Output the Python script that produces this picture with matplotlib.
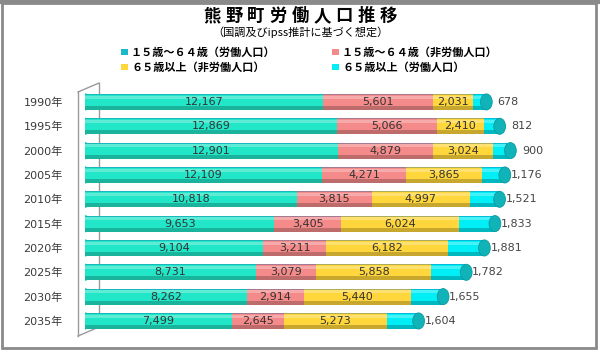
import matplotlib
matplotlib.use("Agg")
import matplotlib.pyplot as plt
from matplotlib.patches import Ellipse, Rectangle
from matplotlib.lines import Line2D

plt.rcParams['font.family'] = ['DejaVu Sans', 'Noto Sans CJK JP']

years = ["1990年", "1995年", "2000年", "2005年", "2010年", "2015年", "2020年", "2025年", "2030年", "2035年"]
working_15_64 = [12167, 12869, 12901, 12109, 10818, 9653, 9104, 8731, 8262, 7499]
nonworking_15_64 = [5601, 5066, 4879, 4271, 3815, 3405, 3211, 3079, 2914, 2645]
nonworking_65 = [2031, 2410, 3024, 3865, 4997, 6024, 6182, 5858, 5440, 5273]
working_65 = [678, 812, 900, 1176, 1521, 1833, 1881, 1782, 1655, 1604]

series_names = ["１５歳～６４歳（労働人口）", "１５歳～６４歳（非労働人口）",
                "６５歳以上（非労働人口）", "６５歳以上（労働人口）"]
series = [working_15_64, nonworking_15_64, nonworking_65, working_65]
colors = ["#22E6C8", "#F48A8A", "#FFD63C", "#00EEF6"]

title = "熊野町労働人口推移"
subtitle = "（国調及びipss推計に基づく想定）"

fig = plt.figure(figsize=(6, 3.5), dpi=100)
fig.patch.set_facecolor("white")

fig.add_artist(Rectangle((0.004, 0.006), 0.99, 0.985, transform=fig.transFigure,
                         fill=False, edgecolor="#8a8a8a", lw=2.0))
fig.add_artist(Line2D([0, 1], [0.995, 0.995], transform=fig.transFigure, color="#8a8a8a", lw=3))

def px(x, y):
    return x / 600, (350 - y) / 350

wall = [((78, 92), (99, 83)), ((99, 83), (99, 327)), ((99, 327), (78, 336)), ((78, 92), (78, 336))]
for (a, b) in wall:
    (x1, y1), (x2, y2) = px(*a), px(*b)
    fig.add_artist(Line2D([x1, x2], [y1, y2], transform=fig.transFigure, color="#9a9a9a", lw=1.0, zorder=0))

ax = fig.add_axes([85 / 600, 0.0343, 505 / 600, 0.737])
ax.set_facecolor("none")
ax.set_xlim(0, 25765)
ax.set_ylim(9.7, -0.9)
for s in ax.spines.values():
    s.set_visible(False)
ax.set_xticks([])
ax.set_yticks(range(len(years)))
ax.set_yticklabels(years, fontsize=8, color="#3a3a3a")
ax.tick_params(axis="y", length=0, pad=16)

h = 0.66
ypos = list(range(len(years)))
left = [0] * len(years)
for vals, col in zip(series, colors):
    ax.barh(ypos, vals, left=left, height=h, color=col, edgecolor="none", zorder=2)
    ax.barh([y - h * 0.30 for y in ypos], vals, left=left, height=h * 0.18, color="white", alpha=0.28, edgecolor="none", zorder=3)
    ax.barh([y + h * 0.38 for y in ypos], vals, left=left, height=h * 0.24, color="black", alpha=0.22, edgecolor="none", zorder=3)
    ax.barh([y - h * 0.47 for y in ypos], vals, left=left, height=h * 0.06, color="#1060a0", alpha=0.35, edgecolor="none", zorder=3)
    left = [l + v for l, v in zip(left, vals)]

totals = left
for i, y in enumerate(ypos):
    ax.add_patch(Ellipse((0, y), 420, h, color=colors[0], zorder=1.5))
    ax.add_patch(Ellipse((totals[i], y), 600, h, facecolor="#10B4B8", edgecolor="#0A9A9E", lw=0.6, zorder=4))

for i, y in enumerate(ypos):
    start = 0
    for vals in series[:3]:
        v = vals[i]
        ax.text(start + v / 2, y, f"{v:,}", ha="center", va="center", fontsize=8, color="#333333", zorder=5)
        start += v
    ax.text(totals[i] + 1120, y, f"{working_65[i]:,}", ha="center", va="center", fontsize=8, color="#444444", zorder=5)

# title: letter-spaced characters
n = len(title)
step = 22
x0 = 300 - step * (n - 1) / 2
for k, ch in enumerate(title):
    fx, fy = px(x0 + k * step, 16)
    fig.text(fx, fy, ch, ha="center", va="center", fontsize=12.5, fontweight="bold",
             family=["Noto Sans CJK JP", "DejaVu Sans"])
fig.text(0.5, 1 - 32 / 350, subtitle, ha="center", va="center", fontsize=8,
         family=["Noto Sans CJK JP", "DejaVu Sans"])

leg_pos = [(124, 52), (335, 52), (124, 67), (335, 67)]
for (x, y), name, col in zip(leg_pos, series_names, colors):
    fx, fy = px(x, y)
    fig.add_artist(Rectangle((fx - 3.5 / 600, fy - 3 / 350), 7 / 600, 6 / 350, transform=fig.transFigure,
                             facecolor=col if col != colors[0] else "#1AB8C8", edgecolor="none"))
    fig.text(fx + 7 / 600, fy, name, ha="left", va="center", fontsize=8, fontweight="bold",
             family=["Noto Sans CJK JP", "DejaVu Sans"])

fig.savefig("out.png", dpi=100)
